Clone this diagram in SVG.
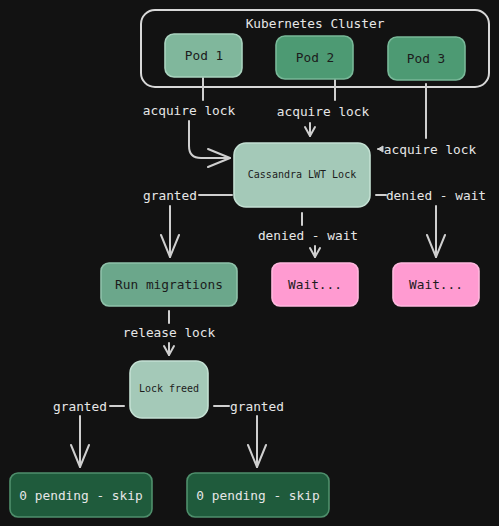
<svg xmlns="http://www.w3.org/2000/svg" width="499" height="526" viewBox="0 0 499 526">
<defs>
<style>
.bg{fill:#121212}
.node rect{stroke-width:1.6}
.t{font-family:"DejaVu Sans Mono","Liberation Mono",monospace;font-size:12.8px;text-anchor:middle;dominant-baseline:central}
.sm{font-size:10px}
.dark{fill:#1c1c1c}
.light{fill:#e6e6e6}
.lbl{font-family:"DejaVu Sans Mono","Liberation Mono",monospace;font-size:12.8px;fill:#e6e6e6;text-anchor:middle;dominant-baseline:central}
.c{fill:none;stroke:#cfcfcf;stroke-width:2;stroke-linecap:round;stroke-linejoin:round}
</style>
<marker id="big" markerUnits="userSpaceOnUse" viewBox="-24 -12 28 24" refX="0" refY="0" markerWidth="28" markerHeight="24" orient="auto">
<path d="M-22,-9 L0,0 L-22,9" fill="none" stroke="#cfcfcf" stroke-width="2" stroke-linecap="round" stroke-linejoin="round"/>
</marker>
<marker id="sml" markerUnits="userSpaceOnUse" viewBox="-12 -8 14 16" refX="0" refY="0" markerWidth="14" markerHeight="16" orient="auto">
<path d="M-9,-5 L0,0 L-9,5" fill="none" stroke="#cfcfcf" stroke-width="2" stroke-linecap="round" stroke-linejoin="round"/>
</marker>
<marker id="tiny" markerUnits="userSpaceOnUse" viewBox="-8 -5 10 10" refX="0" refY="0" markerWidth="10" markerHeight="10" orient="auto">
<path d="M-5,-3 L0,0 L-5,3 Z" fill="#cfcfcf" stroke="#cfcfcf" stroke-width="1"/>
</marker>
</defs>
<rect class="bg" x="0" y="0" width="499" height="526"/>

<g id="cluster">
<rect x="141" y="10" width="348" height="77" rx="14" fill="none" stroke="#d8d8d8" stroke-width="2"/>
<text class="lbl" x="315" y="23">Kubernetes Cluster</text>
</g>

<g id="connectors">
<!-- Pod1 -> Lock -->
<path class="c" d="M203,78 V100"/>
<text class="lbl" x="189" y="110">acquire lock</text>
<path class="c" d="M189,121 V146 Q189,158 201,158 H230" marker-end="url(#big)"/>
<!-- Pod2 -> Lock -->
<path class="c" d="M335,80 V100"/>
<text class="lbl" x="323" y="111">acquire lock</text>
<path class="c" d="M310,123 V136" marker-end="url(#sml)"/>
<!-- Pod3 -> Lock -->
<path class="c" d="M426,84 V138"/>
<text class="lbl" x="430" y="149">acquire lock</text>
<path class="c" d="M382,149 H378" marker-end="url(#tiny)"/>
<!-- Lock -> Run migrations -->
<path class="c" d="M232,195 H199"/>
<text class="lbl" x="170" y="195">granted</text>
<path class="c" d="M170,206 V257" marker-end="url(#big)"/>
<!-- Lock -> Wait 1 -->
<path class="c" d="M302,213 V225"/>
<text class="lbl" x="308" y="235">denied - wait</text>
<path class="c" d="M315,246 V257" marker-end="url(#sml)"/>
<!-- Lock -> Wait 2 -->
<path class="c" d="M376,195 H386"/>
<text class="lbl" x="436" y="195">denied - wait</text>
<path class="c" d="M436,206 V257" marker-end="url(#big)"/>
<!-- Run -> Lock freed -->
<path class="c" d="M169,311 V323"/>
<text class="lbl" x="169" y="332">release lock</text>
<path class="c" d="M169,343 V355" marker-end="url(#sml)"/>
<!-- Lock freed -> pending L -->
<path class="c" d="M124,406 H110"/>
<text class="lbl" x="80" y="406">granted</text>
<path class="c" d="M80,416 V467" marker-end="url(#big)"/>
<!-- Lock freed -> pending R -->
<path class="c" d="M214,406 H229"/>
<text class="lbl" x="257" y="406">granted</text>
<path class="c" d="M257,416 V467" marker-end="url(#big)"/>
</g>

<g id="pod1" class="node">
<rect x="165" y="34" width="77" height="43" rx="9" fill="#80b79c" stroke="#a9d3bf"/>
<text class="t dark" x="204" y="55">Pod 1</text>
</g>
<g id="pod2" class="node">
<rect x="276" y="36" width="77" height="43" rx="9" fill="#4d9a73" stroke="#78b898"/>
<text class="t dark" x="315" y="57">Pod 2</text>
</g>
<g id="pod3" class="node">
<rect x="388" y="37" width="77" height="43" rx="9" fill="#4d9a73" stroke="#78b898"/>
<text class="t dark" x="426" y="58">Pod 3</text>
</g>
<g id="lock" class="node">
<rect x="234" y="143" width="136" height="64" rx="12" fill="#a4c9b8" stroke="#c4e0d3"/>
<text class="t sm dark" x="302" y="174">Cassandra LWT Lock</text>
</g>
<g id="run" class="node">
<rect x="101" y="263" width="136" height="43" rx="8" fill="#6ba78b" stroke="#8fc2aa"/>
<text class="t dark" x="169" y="284">Run migrations</text>
</g>
<g id="wait1" class="node">
<rect x="272" y="263" width="86" height="43" rx="8" fill="#ff9bd1" stroke="#ffb8de"/>
<text class="t dark" x="315" y="284">Wait...</text>
</g>
<g id="wait2" class="node">
<rect x="393" y="263" width="86" height="43" rx="8" fill="#ff9bd1" stroke="#ffb8de"/>
<text class="t dark" x="436" y="284">Wait...</text>
</g>
<g id="freed" class="node">
<rect x="130" y="361" width="78" height="57" rx="12" fill="#a4c9b8" stroke="#c4e0d3"/>
<text class="t sm dark" x="169" y="388">Lock freed</text>
</g>
<g id="pendingL" class="node">
<rect x="10" y="473" width="142" height="44" rx="8" fill="#1f5b3c" stroke="#4f8f6c"/>
<text class="t light" x="81" y="495">0 pending - skip</text>
</g>
<g id="pendingR" class="node">
<rect x="187" y="473" width="142" height="44" rx="8" fill="#1f5b3c" stroke="#4f8f6c"/>
<text class="t light" x="258" y="495">0 pending - skip</text>
</g>
</svg>
